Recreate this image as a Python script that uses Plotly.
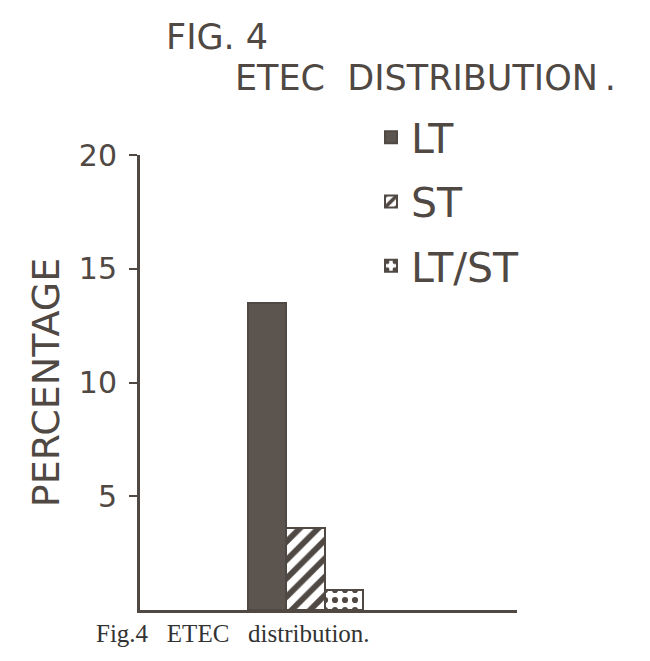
import plotly.graph_objects as go

# ETEC distribution (percentage of isolates)
categories = ['LT', 'ST', 'LT/ST']
percentages = [13.5, 3.6, 0.9]
y_ticks = [5, 10, 15, 20]

ink = '#4f4843'
bar_fill = '#5c554f'

W, H = 650, 661
M = 20    # small outer margin, the plot area is placed with axis domains
OFF = 8   # page body margin shifts the figure by this much


def px_x(x):
    return (x - OFF - M) / (W - 2 * M)


def px_y(y):
    return (H - M - (y - OFF)) / (H - 2 * M)


# one trace per toxin type so each gets its own legend entry
patterns = [
    dict(shape=''),
    dict(shape='/', fgcolor=ink, bgcolor='white', size=13, solidity=0.45, fillmode='replace'),
    dict(shape='.', fgcolor=ink, bgcolor='white', size=10, solidity=0.3, fillmode='replace'),
]
fills = [bar_fill, 'white', 'white']

fig = go.Figure()
for i, cat in enumerate(categories):
    fig.add_trace(go.Bar(
        x=[cat], y=[percentages[i]], name=cat,
        legendgroup=cat,
        marker=dict(color=fills[i], pattern=patterns[i],
                    line=dict(color=ink, width=2)),
        width=1,
    ))

fig.update_layout(
    width=W, height=H,
    margin=dict(l=M, r=M, t=M, b=M, autoexpand=False),
    paper_bgcolor='white', plot_bgcolor='white',
    barmode='overlay', bargap=0,
    font=dict(family='DejaVu Sans', color=ink),
    showlegend=True,
    legend=dict(
        x=px_x(371), y=px_y(104), xanchor='left', yanchor='top',
        font=dict(size=41, color=ink),
        traceorder='grouped', tracegroupgap=8,
        bgcolor='rgba(0,0,0,0)',
    ),
    xaxis=dict(
        domain=[px_x(140), px_x(517)],
        type='category', categoryorder='array', categoryarray=categories,
        range=[-3.3, 6.5], showticklabels=False, ticks='',
        showline=True, linecolor=ink, linewidth=3, showgrid=False,
        zeroline=False, fixedrange=True,
    ),
    yaxis=dict(
        domain=[px_y(610), px_y(155)],
        range=[0, 20], tickvals=y_ticks, ticks='outside', ticklen=8,
        tickwidth=2, tickcolor=ink, showline=True, linecolor=ink,
        linewidth=3, showgrid=False, zeroline=False,
        tickfont=dict(size=30, color=ink), ticklabelstandoff=6,
        title=dict(text='PERCENTAGE', font=dict(size=38, color=ink), standoff=8),
    ),
)

fig.add_annotation(text='FIG.&nbsp;4', xref='paper', yref='paper',
                   x=px_x(164), y=px_y(37),
                   xanchor='left', yanchor='middle', showarrow=False,
                   font=dict(size=35, color=ink))
fig.add_annotation(text='ETEC&nbsp;&nbsp;DISTRIBUTION&#8201;.', xref='paper', yref='paper',
                   x=px_x(233), y=px_y(78),
                   xanchor='left', yanchor='middle', showarrow=False,
                   font=dict(size=35, color=ink))
fig.add_annotation(text='Fig.4&nbsp;&nbsp;&nbsp;ETEC&nbsp;&nbsp;&nbsp;distribution.',
                   xref='paper', yref='paper',
                   x=px_x(94), y=px_y(633),
                   xanchor='left', yanchor='middle', showarrow=False,
                   font=dict(size=25, color='#333', family='Liberation Serif'))

fig.write_html("out.html")
